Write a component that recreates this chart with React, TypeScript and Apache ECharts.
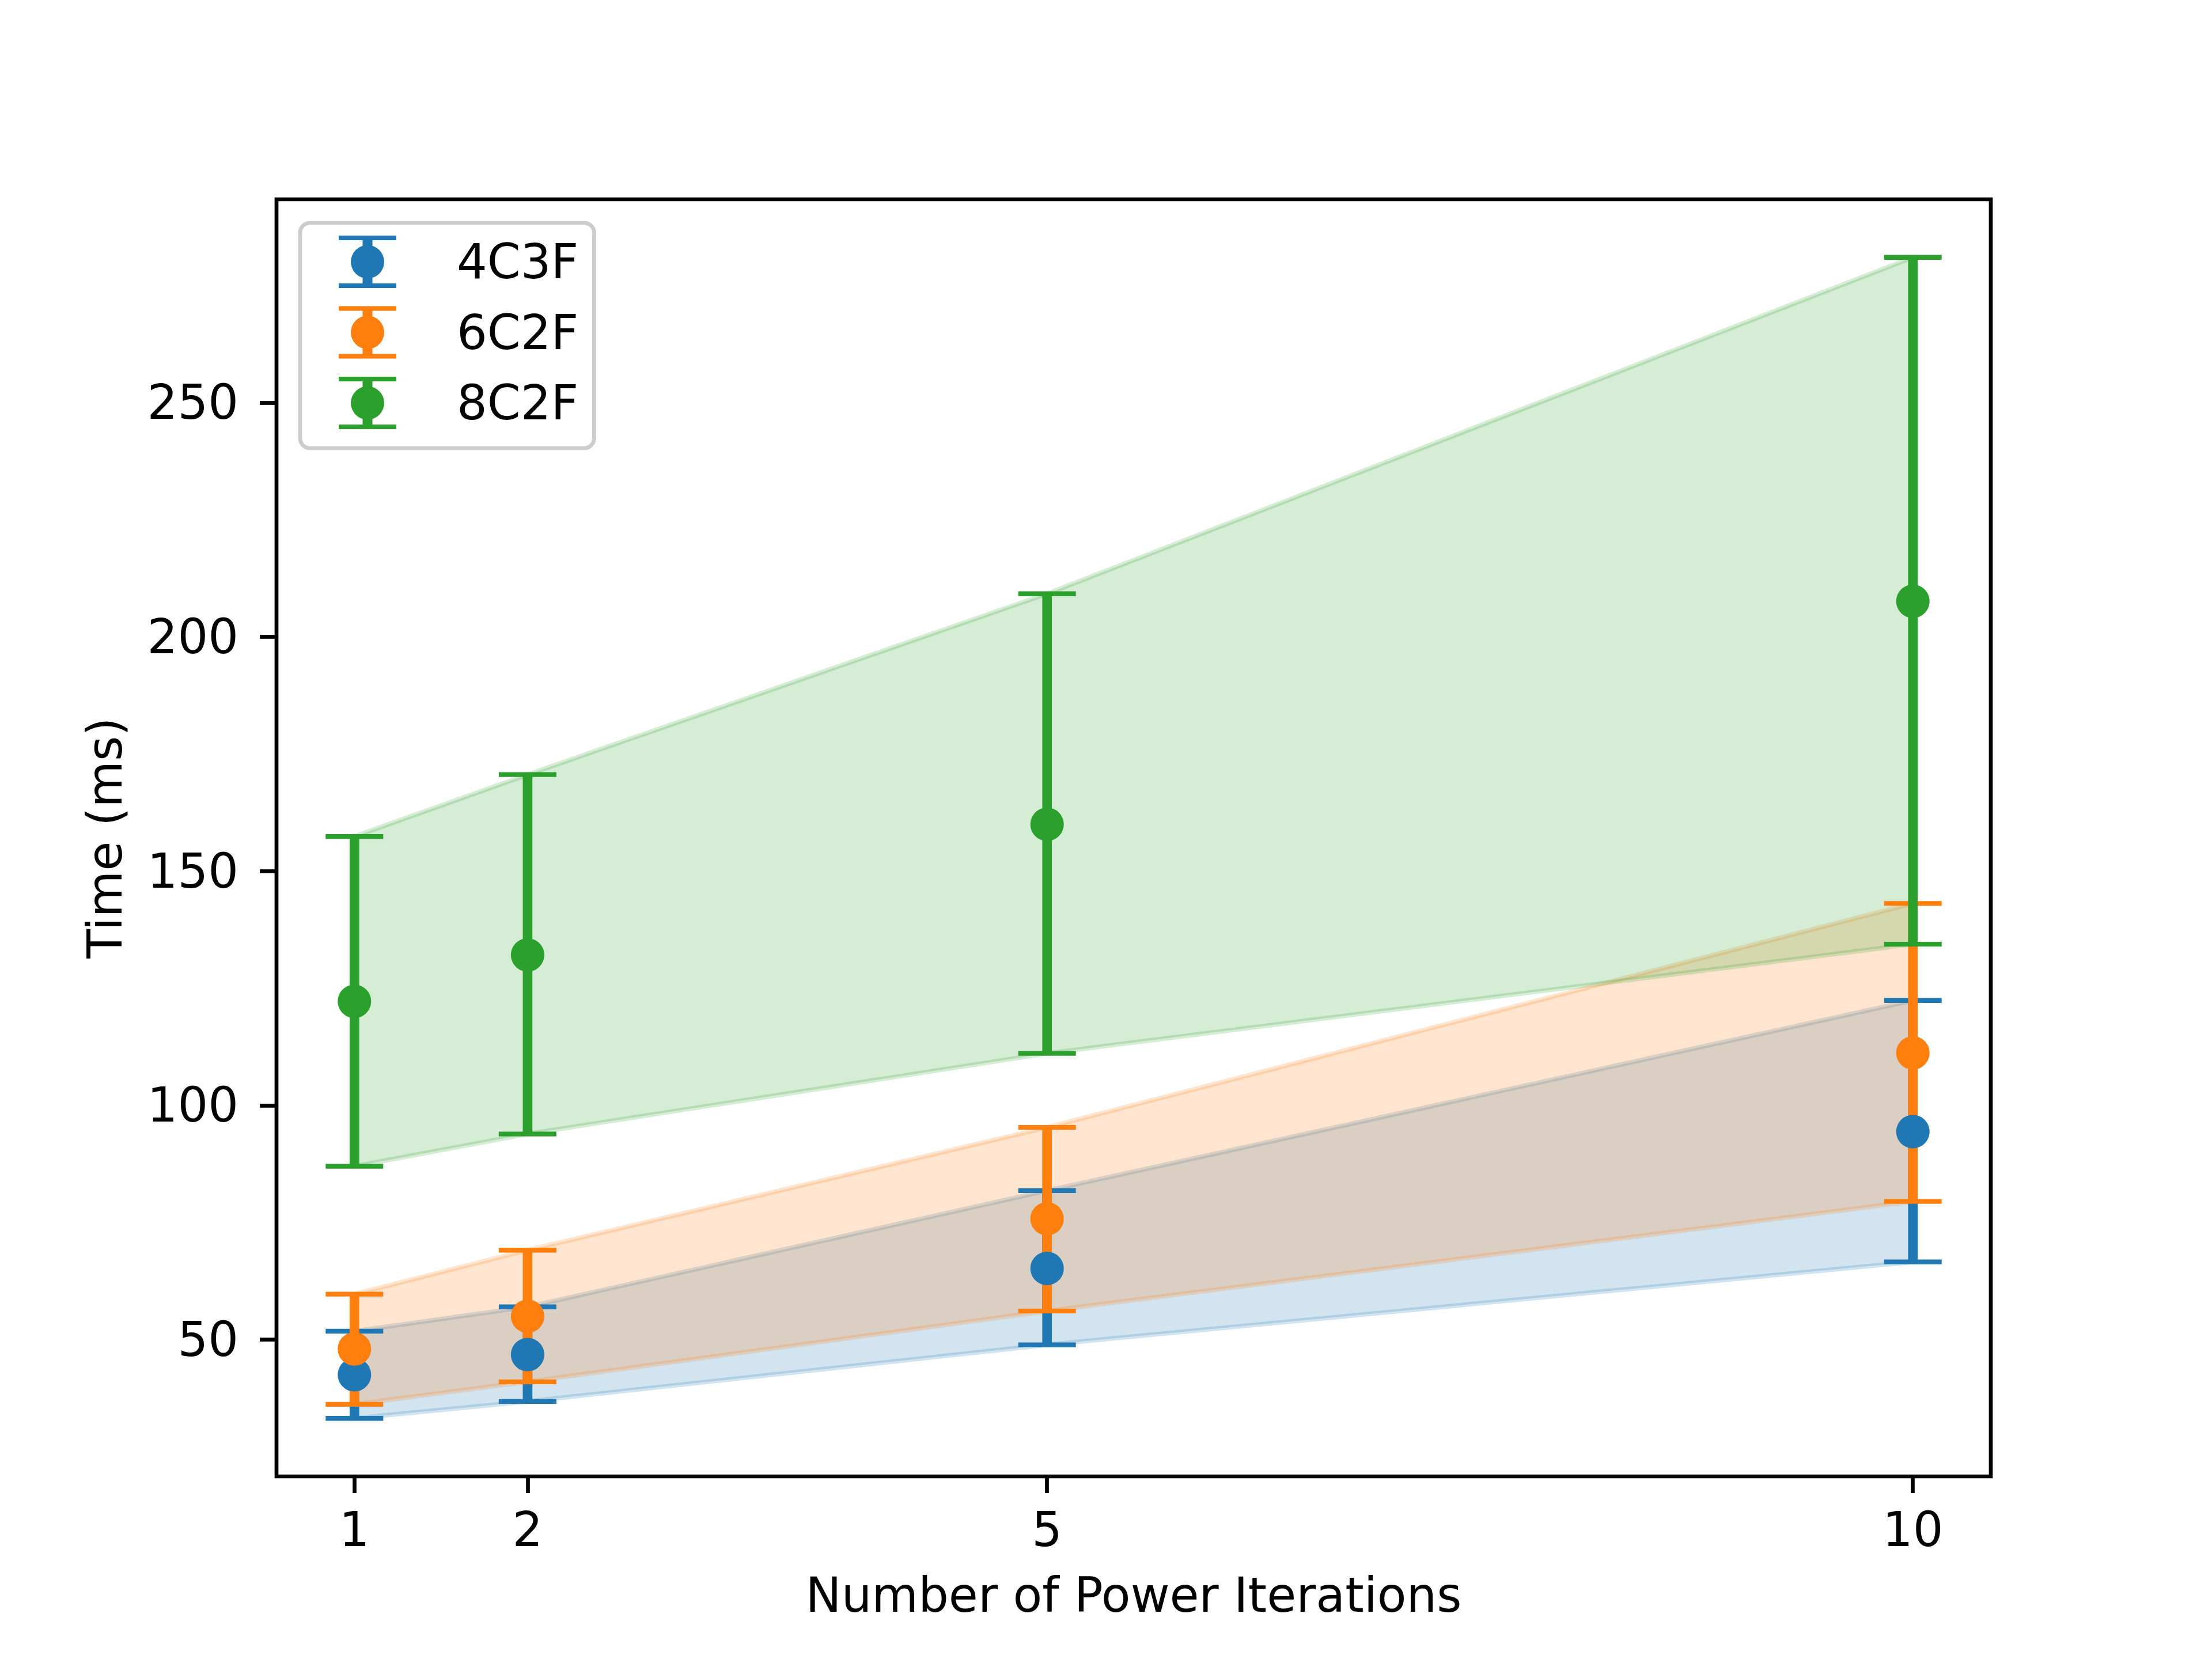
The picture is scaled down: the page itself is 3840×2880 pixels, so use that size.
import React, { useEffect, useRef } from "react";
import * as echarts from "echarts";

// ---- data ----
const iterations = [1, 2, 5, 10];
const seriesNames = ["4C3F", "6C2F", "8C2F"];
const colors = ["#1f77b4", "#ff7f0e", "#2ca02c"];
const bandColors = ["rgba(31,119,180,0.2)", "rgba(255,127,14,0.2)", "rgba(44,160,44,0.2)"];

const mean4C3F = [42.5, 46.8, 65.2, 94.4];
const low4C3F = [33.2, 36.8, 48.9, 66.6];
const high4C3F = [51.8, 57.0, 81.8, 122.4];

const mean6C2F = [48.0, 55.0, 75.8, 111.2];
const low6C2F = [36.2, 41.0, 56.1, 79.5];
const high6C2F = [59.7, 69.1, 95.3, 143.1];

const mean8C2F = [122.2, 132.1, 160.0, 207.6];
const low8C2F = [87.0, 93.9, 111.1, 134.4];
const high8C2F = [157.4, 170.6, 209.2, 281.0];

const xTicks = [1, 2, 5, 10];
const yTicks = [50, 100, 150, 200, 250];

const means = [mean4C3F, mean6C2F, mean8C2F];
const lows = [low4C3F, low6C2F, low8C2F];
const highs = [high4C3F, high6C2F, high8C2F];

const FONT = "DejaVu Sans";
const LW = 6.7;

// errorbar legend glyph: two caps, a bar and a dot
const LEGEND_ICON =
  "path://M0,0h100v8h-100z M0,83h100v8h-100z M41.5,8h17v75h-17z M21,45.5a29,29 0 1,1 58,0a29,29 0 1,1 -58,0z";

function axisRange(vals: number[]) {
  const mn = Math.min(...vals);
  const mx = Math.max(...vals);
  const m = (mx - mn) * 0.05;
  return [mn - m, mx + m];
}

export default function App() {
  const ref = useRef<HTMLDivElement>(null);

  useEffect(() => {
    document.body.style.margin = "0";
    document.body.style.overflow = "hidden";
    if (!ref.current) return;
    const chart = echarts.init(ref.current, undefined, { renderer: "svg" });

    const [xMin, xMax] = axisRange(iterations);
    const [yMin, yMax] = axisRange([...low4C3F, ...low6C2F, ...low8C2F, ...high4C3F, ...high6C2F, ...high8C2F]);

    const bandSeries = seriesNames.map((n, s) => {
      const data = iterations.map((x, i) => [x, lows[s][i], highs[s][i]]);
      return {
        type: "custom",
        name: n + " band",
        z: 1,
        silent: true,
        coordinateSystem: "cartesian2d",
        encode: { x: 0, y: [1, 2] },
        data,
        renderItem: (params: any, api: any) => {
          if (params.dataIndex !== 0) return { type: "group", children: [] };
          const upper = data.map((d) => api.coord([d[0], d[2]]));
          const lower = data.map((d) => api.coord([d[0], d[1]])).reverse();
          return {
            type: "polygon",
            shape: { points: upper.concat(lower) },
            style: { fill: bandColors[s], stroke: bandColors[s], lineWidth: 8 },
          };
        },
      };
    });

    const errSeries = seriesNames.map((n, s) => ({
      type: "custom",
      name: n + " err",
      z: 2,
      silent: true,
      coordinateSystem: "cartesian2d",
      encode: { x: 0, y: [1, 2] },
      data: iterations.map((x, i) => [x, lows[s][i], highs[s][i]]),
      renderItem: (params: any, api: any) => {
        const pLo = api.coord([api.value(0), api.value(1)]);
        const pHi = api.coord([api.value(0), api.value(2)]);
        return {
          type: "group",
          children: [
            {
              type: "line",
              shape: { x1: pLo[0], y1: pLo[1], x2: pHi[0], y2: pHi[1] },
              style: { stroke: colors[s], lineWidth: 16.7 },
            },
            {
              type: "line",
              shape: { x1: pLo[0] - 50, y1: pLo[1], x2: pLo[0] + 50, y2: pLo[1] },
              style: { stroke: colors[s], lineWidth: 8.3 },
            },
            {
              type: "line",
              shape: { x1: pHi[0] - 50, y1: pHi[1], x2: pHi[0] + 50, y2: pHi[1] },
              style: { stroke: colors[s], lineWidth: 8.3 },
            },
          ],
        };
      },
    }));

    const markerSeries = seriesNames.map((n, s) => ({
      type: "scatter",
      name: n,
      z: 3,
      symbol: "circle",
      symbolSize: 58,
      itemStyle: { color: colors[s], opacity: 1 },
      data: iterations.map((x, i) => [x, means[s][i]]),
    }));

    chart.setOption({
      animation: false,
      backgroundColor: "#ffffff",
      grid: {
        left: 480,
        top: 346,
        width: 2976,
        height: 2217,
        show: true,
        borderColor: "#000000",
        borderWidth: LW,
        backgroundColor: "transparent",
      },
      legend: {
        orient: "vertical",
        left: 521,
        top: 387,
        padding: [22, 27, 33, 67],
        itemWidth: 100,
        itemHeight: 91,
        itemGap: 31.5,
        backgroundColor: "rgba(255,255,255,0.8)",
        borderColor: "#cccccc",
        borderWidth: LW,
        borderRadius: 17,
        selectedMode: false,
        textStyle: {
          fontSize: 83,
          fontFamily: FONT,
          color: "#000000",
          lineHeight: 91,
          padding: [0, 0, 0, 100],
        },
        data: seriesNames.map((n, s) => ({ name: n, icon: LEGEND_ICON, itemStyle: { color: colors[s] } })),
      },
      xAxis: {
        type: "value",
        min: xMin,
        max: xMax,
        name: "Number of Power Iterations",
        nameLocation: "middle",
        nameGap: 165,
        nameTextStyle: { fontSize: 83, fontFamily: FONT, color: "#000000" },
        axisLine: { show: false },
        splitLine: { show: false },
        axisTick: {
          show: true,
          length: 29,
          customValues: xTicks,
          lineStyle: { color: "#000000", width: LW },
        },
        axisLabel: {
          show: true,
          margin: 51,
          customValues: xTicks,
          fontSize: 83,
          fontFamily: FONT,
          color: "#000000",
        },
      },
      yAxis: {
        type: "value",
        min: yMin,
        max: yMax,
        name: "Time (ms)",
        nameLocation: "middle",
        nameRotate: 90,
        nameGap: 256,
        nameTextStyle: { fontSize: 83, fontFamily: FONT, color: "#000000" },
        axisLine: { show: false },
        splitLine: { show: false },
        axisTick: {
          show: true,
          length: 29,
          customValues: yTicks,
          lineStyle: { color: "#000000", width: LW },
        },
        axisLabel: {
          show: true,
          margin: 66,
          customValues: yTicks,
          fontSize: 83,
          fontFamily: FONT,
          color: "#000000",
        },
      },
      series: [...bandSeries, ...errSeries, ...markerSeries],
    });

    return () => chart.dispose();
  }, []);

  return <div ref={ref} style={{ width: 3840, height: 2880 }} />;
}
